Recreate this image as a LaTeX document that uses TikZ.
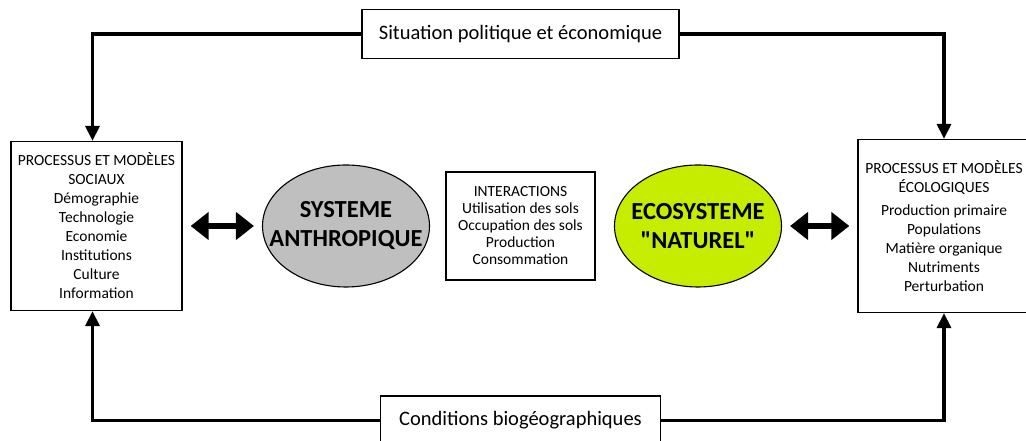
\documentclass[tikz,border=0pt]{standalone}
\usepackage{fontspec}
\setmainfont{Carlito}
\newfontfamily\carlitobrut{Carlito}
\usetikzlibrary{arrows.meta,positioning,shapes.geometric}

\definecolor{gris}{RGB}{191,191,191}
\definecolor{vertlime}{RGB}{198,236,0}

\begin{document}
\begin{tikzpicture}[x=1pt,y=1pt,node distance=2cm,on grid,
	boite/.style={draw,line width=1.3pt,fill=white,align=center,inner sep=2pt},
	petit/.style={font=\fontsize{15.5}{19}\selectfont},
	grand/.style={font=\fontsize{20.5}{24}\selectfont},
	ovale/.style={draw,ellipse,line width=1.1pt,minimum width=167,minimum height=122,
		inner xsep=-20pt,inner ysep=0pt,align=center,font=\fontsize{24.5}{29}\selectfont\bfseries},
	lien/.style={line width=3.5pt,-{Triangle[length=15pt,width=14pt]}},
	fleche/.style={line width=6pt,{Triangle[length=18pt,width=27pt]}-{Triangle[length=18pt,width=27pt]},
		shorten <=8pt,shorten >=8pt}]
	\useasboundingbox (0,0) rectangle (1026,441);
	\node (5) [boite,font=\fontsize{15.5}{17}\selectfont,minimum width=149,minimum height=108] at (520.5,215)
		{INTERACTIONS\\Utilisation des sols\\Occupation des sols\\Production\\Consommation};
	\node (4) [ovale,fill=gris,left=174.5pt of 5] {SYSTEME\\ANTHROPIQUE};
	\node (6) [ovale,fill=vertlime,right=177.5pt of 5] {ECOSYSTEME\\\carlitobrut\bfseries"NATUREL"};
	\node (2) [boite,petit,minimum width=171,minimum height=169,left=424pt of 5]
		{PROCESSUS ET MODÈLES\\SOCIAUX\\Démographie\\Technologie\\Economie\\Institutions\\Culture\\Information};
	\node (3) [boite,petit,minimum width=172,minimum height=173,right=423.5pt of 5]
		{PROCESSUS ET MODÈLES\\ÉCOLOGIQUES\\[4pt]Production primaire\\Populations\\Matière organique\\Nutriments\\Perturbation};
	\node (1) [boite,grand,minimum width=317,minimum height=49,above=192pt of 5] {Situation politique et économique};
	\node (7) [boite,grand,minimum width=280,minimum height=49,below=194.5pt of 5] {Conditions biogéographiques};
	\draw[lien] (1.west) -| ([xshift=-4pt]2.north);
	\draw[lien] (1.east) -| (3.north);
	\draw[lien] (7.west) -| ([xshift=-4pt]2.south);
	\draw[lien] (7.east) -| (3.south);
	\path
		(2.east) edge[fleche] (4.west)
		(6.east) edge[fleche] (3.west);

\end{tikzpicture}
\end{document}
